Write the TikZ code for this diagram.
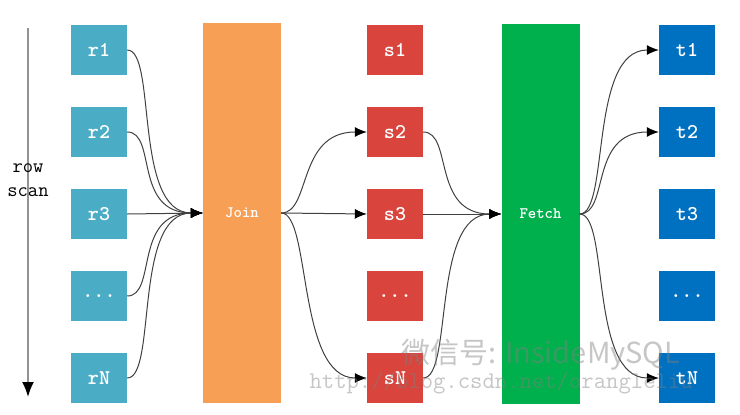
\documentclass[tikz,border=0pt]{standalone}
\usepackage{fontspec}
\newfontfamily\cjk{Noto Sans CJK SC}
\usetikzlibrary{arrows.meta}

\definecolor{rblue}{HTML}{4BACC6}
\definecolor{sred}{HTML}{D9443C}
\definecolor{tblue}{HTML}{0070C0}
\definecolor{joinorange}{HTML}{F79F55}
\definecolor{fetchgreen}{HTML}{00B04C}

\tikzset{
    cell/.style={minimum width=56pt, minimum height=50pt, inner sep=0pt,
        text=white, font=\fontsize{21}{21}\selectfont\ttfamily\bfseries},
    bar/.style={minimum width=78pt, minimum height=380pt, inner sep=0pt,
        text=white, font=\fontsize{16}{16}\selectfont\ttfamily\bfseries},
    flow/.style={out=0, in=180, out distance=30pt, in distance=70pt}
}

\begin{document}
\begin{tikzpicture}[x=1pt, y=-1pt]
\useasboundingbox (0,0) rectangle (740,415);

% row scan
\coordinate (scantop) at (28,28);
\coordinate (scanbot) at (28,397);
\draw[gray!85, line width=1.8pt, -{Latex[black, length=15pt, width=12pt]}] (scantop) -- (scanbot);
\node[align=center, font=\fontsize{20}{24}\selectfont\ttfamily] (scanlbl) at (28,180) {row\\scan};

% input, join and fetch columns
\begin{scope}[every node/.style={cell, fill=rblue}]
    \node (r1) at (99,50)  {r1};
    \node (r2) at (99,132) {r2};
    \node (r3) at (99,214) {r3};
    \node (r4) at (99,296) {...};
    \node (rn) at (99,378) {rN};
\end{scope}

\begin{scope}[every node/.style={cell, fill=sred}]
    \node (s1) at (395,50)  {s1};
    \node (s2) at (395,132) {s2};
    \node (s3) at (395,214) {s3};
    \node (s4) at (395,296) {...};
    \node (sn) at (395,378) {sN};
\end{scope}

\begin{scope}[every node/.style={cell, fill=tblue}]
    \node (t1) at (687,50)  {t1};
    \node (t2) at (687,132) {t2};
    \node (t3) at (687,214) {t3};
    \node (t4) at (687,296) {...};
    \node (tn) at (687,378) {tN};
\end{scope}

\node[bar, fill=joinorange] (join) at (242,213) {Join};
\node[bar, fill=fetchgreen] (fetch) at (540.5,214) {Fetch};

% connectors
\begin{scope}[draw=black!75, line width=1pt, -{Latex[black, length=12pt, width=10pt]}]
    \foreach \a in {r1,r2,r4,rn}
        \draw (\a.east) to[flow] (join.west);
    \draw (r3.east) -- (join.west);

    \draw (join.east) to[flow] (s2.west);
    \draw (join.east) -- (s3.west);
    \draw (join.east) to[flow] (sn.west);

    \draw (s2.east) to[flow] (fetch.west);
    \draw (s3.east) -- (fetch.west);
    \draw (sn.east) to[flow] (fetch.west);

    \foreach \b in {t1,t2,tn}
        \draw (fetch.east) to[flow] (\b.west);
\end{scope}

% watermark
\node[gray, opacity=0.45, anchor=west, font=\fontsize{29}{29}\selectfont\cjk] (wmark) at (398,355) {微信号: InsideMySQL};
\node[gray, opacity=0.45, anchor=west, font=\fontsize{24}{24}\selectfont\ttfamily] (wurl) at (306,383) {http://blog.csdn.net/orangleliu};

\end{tikzpicture}
\end{document}
